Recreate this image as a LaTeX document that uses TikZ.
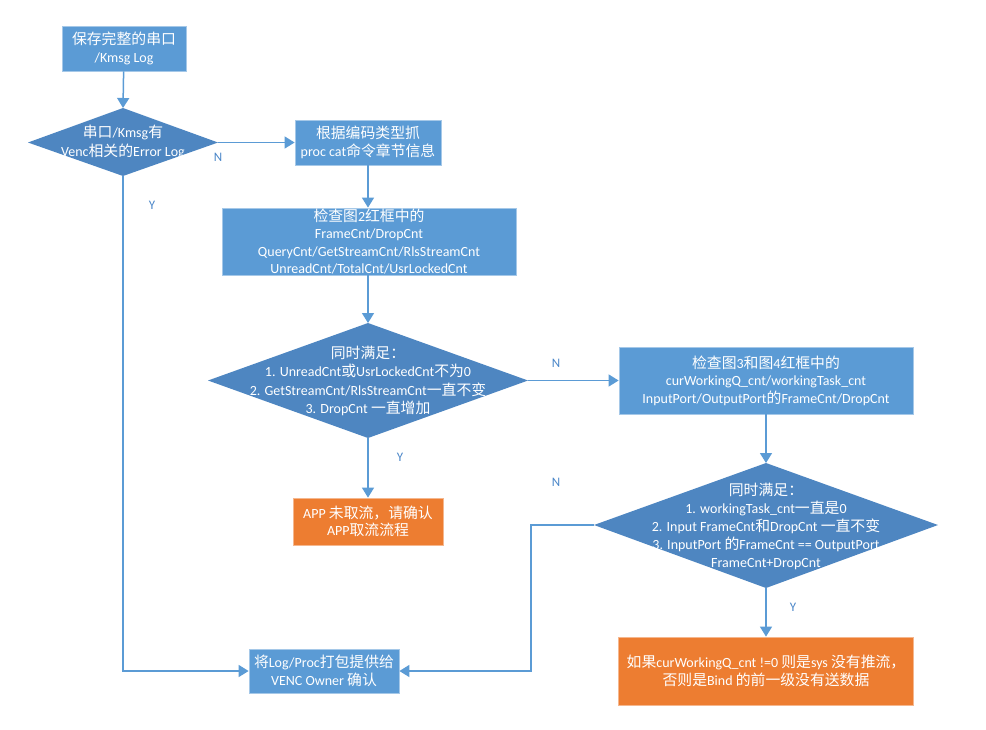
\documentclass[tikz,border=0pt]{standalone}
\usepackage{fontspec}
\setmainfont{Carlito}
\newfontfamily\cjkfont[Scale=1.06]{Noto Sans CJK SC}
\newfontfamily\latfont{Carlito}
\usetikzlibrary{arrows.meta}
\XeTeXinterchartokenstate=1
\chardef\CJKcls=7
\newcount\cjkcc
\cjkcc="4E00 \loop\XeTeXcharclass\cjkcc=\CJKcls\advance\cjkcc by 1 \ifnum\cjkcc<"A000 \repeat
\cjkcc="3000 \loop\XeTeXcharclass\cjkcc=\CJKcls\advance\cjkcc by 1 \ifnum\cjkcc<"3040 \repeat
\cjkcc="FF00 \loop\XeTeXcharclass\cjkcc=\CJKcls\advance\cjkcc by 1 \ifnum\cjkcc<"FFF0 \repeat
\XeTeXinterchartoks 0 \CJKcls = {\cjkfont}
\XeTeXinterchartoks 4095 \CJKcls = {\cjkfont}
\XeTeXinterchartoks \CJKcls 0 = {\latfont}
\XeTeXinterchartoks 4095 0 = {\latfont}
\definecolor{lb}{HTML}{5B9BD5}
\definecolor{db}{HTML}{4E86C1}
\definecolor{og}{HTML}{ED7D31}
\definecolor{lbl}{HTML}{4A86C8}
\tikzset{
  boxbase/.style={text=white, align=center, inner sep=0pt, font=\fontsize{14}{17.5}\selectfont, line width=0.8pt},
  bluebox/.style={boxbase, fill=lb, draw=lb!55!white},
  orangebox/.style={boxbase, fill=og, draw=og!55!white},
  dtext/.style={text=white, align=center, inner sep=0pt, font=\fontsize{14}{18.5}\selectfont},
  diam/.style={fill=db, draw=none},
  conn/.style={draw=lb, line width=1.5pt, -{Triangle[length=10pt,width=12pt]}},
  lab/.style={text=lbl, font=\fontsize{13}{15}\selectfont, inner sep=0pt}
}
\begin{document}
\begin{tikzpicture}[x=1pt,y=-1pt]
\useasboundingbox (0,0) rectangle (986,729);
% boxes
\node[bluebox, minimum width=124pt, minimum height=45pt] (b1) at (124,48.5) {保存完整的串口\\/Kmsg Log};
\node[bluebox, minimum width=146pt, minimum height=45pt] (b2) at (368,142.5) {根据编码类型抓\\proc cat命令章节信息};
\node[bluebox, minimum width=294pt, minimum height=67pt] (b3) at (369,241.5) {检查图2红框中的\\FrameCnt/DropCnt\\QueryCnt/GetStreamCnt/RlsStreamCnt\\UnreadCnt/TotalCnt/UsrLockedCnt};
\node[orangebox, minimum width=150pt, minimum height=47pt] (o1) at (368,521.5) {APP 未取流，请确认\\APP取流流程};
\node[bluebox, minimum width=294pt, minimum height=67pt] (b4) at (766,380.5) {检查图3和图4红框中的\\curWorkingQ\_cnt/workingTask\_cnt\\InputPort/OutputPort的FrameCnt/DropCnt};
\node[orangebox, minimum width=295pt, minimum height=68pt] (o2) at (766,671) {如果curWorkingQ\_cnt !=0 则是sys 没有推流，\\否则是Bind 的前一级没有送数据};
\node[bluebox, minimum width=150pt, minimum height=44pt] (b5) at (324,671) {将Log/Proc打包提供给\\VENC Owner 确认};
% diamond 1
\coordinate (d1t) at (123,108);
\coordinate (d1r) at (218,142.5);
\coordinate (d1b) at (123,176);
\coordinate (d1l) at (28,142.5);
\fill[diam] (d1t) -- (d1r) -- (d1b) -- (d1l) -- cycle;
\node[dtext] (d1) at (123,142) {串口/Kmsg有\\Venc相关的Error Log};
% diamond 2
\coordinate (d2t) at (368,323);
\coordinate (d2r) at (528,380.5);
\coordinate (d2b) at (368,438);
\coordinate (d2l) at (208,380.5);
\fill[diam] (d2t) -- (d2r) -- (d2b) -- (d2l) -- cycle;
\node[dtext] (d2) at (368,381) {同时满足：\\1. UnreadCnt或UsrLockedCnt不为0\\2. GetStreamCnt/RlsStreamCnt一直不变\\3. DropCnt 一直增加};
% diamond 3
\coordinate (d3t) at (766,463);
\coordinate (d3r) at (938,525);
\coordinate (d3b) at (766,588);
\coordinate (d3l) at (594,525);
\fill[diam] (d3t) -- (d3r) -- (d3b) -- (d3l) -- cycle;
\node[dtext, font=\fontsize{14}{18}\selectfont] (d3) at (766,526) {同时满足：\\1. workingTask\_cnt一直是0\\2. Input FrameCnt和DropCnt 一直不变\\3. InputPort 的FrameCnt == OutputPort\\FrameCnt+DropCnt};
% connectors
\coordinate (nb) at (531,525);
\draw[conn] (b1) -- (d1t);
\draw[conn] (d1r) -- (b2);
\draw[conn] (b2) -- (b2 |- b3.north);
\draw[conn] (b2 |- b3.south) -- (d2t);
\draw[conn] (d2r) -- (b4);
\draw[conn] (d2b) -- (o1);
\draw[conn] (b4) -- (d3t);
\draw[conn] (d3b) -- (o2);
\draw[conn] (d3l) -- (nb) |- (b5.east);
\draw[conn] (d1b) |- (b5.west);
% labels
\node[lab] (n1) at (218,157) {N};
\node[lab] (y1) at (152,205) {Y};
\node[lab] (n2) at (556,363) {N};
\node[lab] (y2) at (400,457) {Y};
\node[lab] (n3) at (556,482) {N};
\node[lab] (y3) at (793,607) {Y};
\end{tikzpicture}
\end{document}
